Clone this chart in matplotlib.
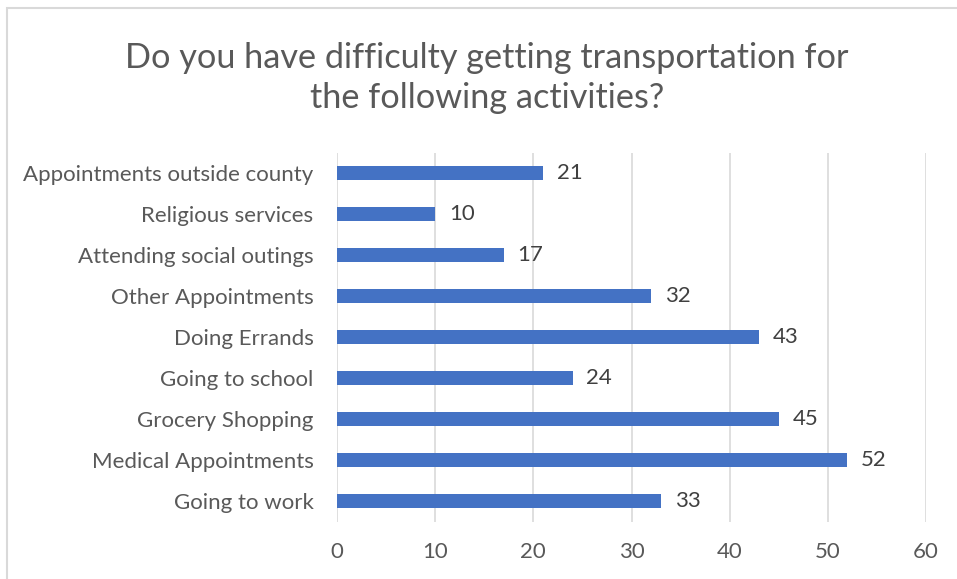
import matplotlib
matplotlib.use("Agg")
import matplotlib.pyplot as plt
from matplotlib.patches import Rectangle

categories = ["Going to work", "Medical Appointments", "Grocery Shopping", "Going to school",
              "Doing Errands", "Other Appointments", "Attending social outings",
              "Religious services", "Appointments outside county"]
values = [33, 52, 45, 24, 43, 32, 17, 10, 21]
xticks = [0, 10, 20, 30, 40, 50, 60]
title = "Do you have difficulty getting transportation for\nthe following activities?"

plt.rcParams['font.family'] = ['Lato', 'DejaVu Sans']
gray = '#595959'

fig = plt.figure(figsize=(9.57, 5.79), dpi=100)
fig.patches.append(Rectangle((7/957, -0.1), 1.2, 1 - 8/579 + 0.1, transform=fig.transFigure,
                             fill=False, edgecolor='#d9d9d9', linewidth=1.5))
ax = fig.add_axes([337/957, 1 - 521.5/579, (926 - 337)/957, (521.5 - 152.5)/579])

y = list(range(len(categories)))
ax.barh(y, values, height=0.34, color='#4472C4', zorder=3)
for yi, v in zip(y, values):
    ax.text(v + 1.4, yi, str(v), va='center', ha='left', fontsize=16, color='#404040')

ax.set_xlim(0, 60)
ax.set_ylim(-0.5, len(categories) - 0.5)
ax.set_xticks(xticks)
ax.set_xticklabels([str(t) for t in xticks])
ax.set_yticks(y)
ax.set_yticklabels(categories)
ax.tick_params(axis='both', length=0, labelsize=16, labelcolor=gray)
ax.tick_params(axis='x', pad=15)
ax.tick_params(axis='y', pad=17)
ax.grid(axis='x', color='#d9d9d9', linewidth=1.2, zorder=0)
for s in ax.spines.values():
    s.set_visible(False)

fig.text(487/957, 1 - 78/579, title, ha='center', va='center', fontsize=24.7, color=gray,
         linespacing=1.33)

fig.savefig('out.png', dpi=100)
